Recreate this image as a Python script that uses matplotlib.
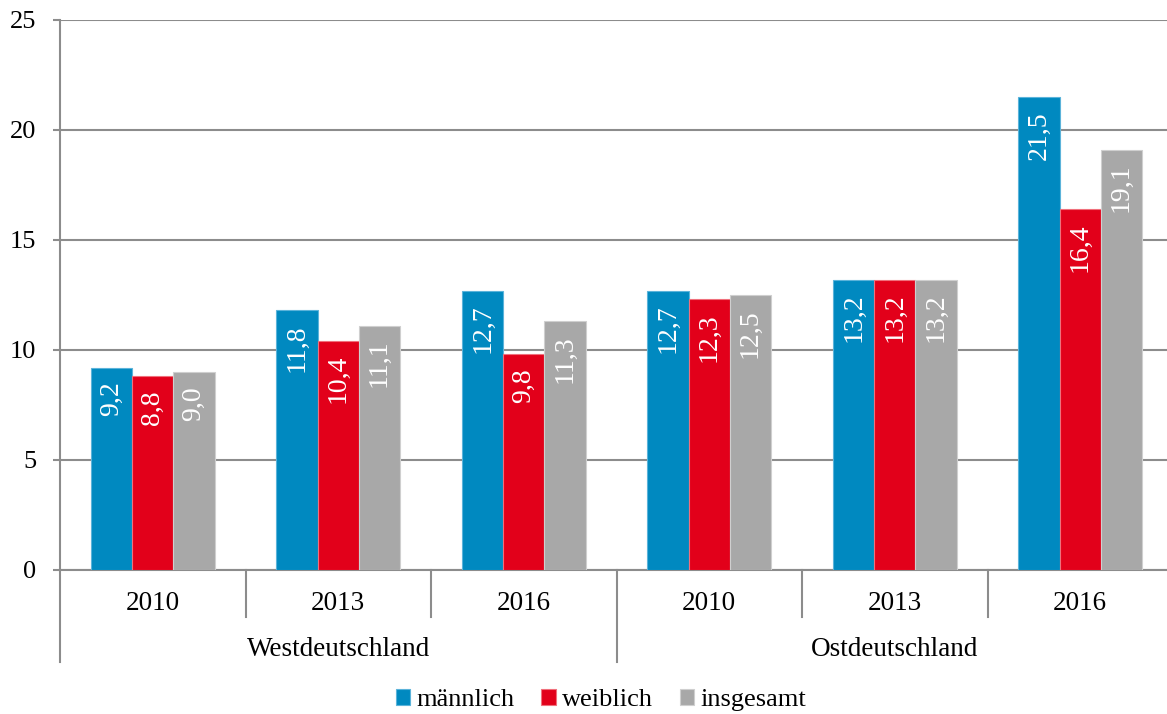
import matplotlib.pyplot as plt
import numpy as np

# =========================
# Schrift
# =========================
plt.rcParams['font.family'] = ['Liberation Serif', 'DejaVu Serif']

# =========================
# Daten
# =========================
jahre = ['2010', '2013', '2016', '2010', '2013', '2016']
regionen = ['Westdeutschland', 'Ostdeutschland']
maennlich = [9.2, 11.8, 12.7, 12.7, 13.2, 21.5]
weiblich = [8.8, 10.4, 9.8, 12.3, 13.2, 16.4]
insgesamt = [9.0, 11.1, 11.3, 12.5, 13.2, 19.1]

serien = ['männlich', 'weiblich', 'insgesamt']
farben = ['#0089C0', '#E2001A', '#A8A8A8']
kanten = ['#5BB3DA', '#F0707C', '#CFCFCF']

# =========================
# Plot
# =========================
W, H = 1167, 714
fig = plt.figure(figsize=(W / 100, H / 100), dpi=100)
ax = fig.add_axes([60 / W, 1 - 570 / H, 1113 / W, 550 / H])

x = np.arange(len(jahre))
bw = 0.222
grau = '#8C8C8C'

for i, (werte, name) in enumerate(zip([maennlich, weiblich, insgesamt], serien)):
    pos = x + (i - 1) * bw
    bars = ax.bar(pos, werte, bw, color=farben[i], edgecolor=kanten[i],
                  linewidth=0.8, label=name, zorder=3)
    for b, v in zip(bars, werte):
        ax.annotate(f'{v:.1f}'.replace('.', ','),
                    (b.get_x() + b.get_width() / 2, v),
                    xytext=(0, -10), textcoords='offset points',
                    rotation=90, ha='center', va='top',
                    color='white', fontsize=20, zorder=4)

ax.set_xlim(-0.5, len(jahre) - 0.5)
ax.set_ylim(0, 25)
ax.set_yticks([0, 5, 10, 15, 20, 25])
ax.yaxis.grid(True, color=grau, linewidth=1.5, zorder=0)
ax.tick_params(axis='y', length=5, width=1.5, color=grau, pad=12, labelsize=19)
ax.set_xticks([])

for s in ['top', 'right']:
    ax.spines[s].set_visible(False)
ax.spines['left'].set_color(grau)
ax.spines['left'].set_linewidth(1.5)
ax.spines['bottom'].set_color(grau)
ax.spines['bottom'].set_linewidth(1.5)

# Kategorienachse mit zwei Ebenen
trans = ax.get_xaxis_transform()
for k in range(len(jahre) + 1):
    lang = k % 3 == 0
    unten = -92 / 550 if lang else -47 / 550
    ax.plot([k - 0.5, k - 0.5], [0, unten], color=grau, linewidth=1.5,
            transform=trans, clip_on=False)
for k, j in enumerate(jahre):
    ax.text(k, -33 / 550, j, transform=trans, ha='center', va='center', fontsize=19.5)
for r, name in enumerate(regionen):
    ax.text(r * 3 + 1, -79 / 550, name, transform=trans, ha='center',
            va='center', fontsize=19.5)

fig.legend(loc='center', bbox_to_anchor=(601 / W, 1 - 700 / H), ncol=3,
           frameon=False, fontsize=19, handlelength=0.55, handleheight=0.55,
           handletextpad=0.25, columnspacing=1.0, borderpad=0)

plt.savefig('out.png', dpi=100)
